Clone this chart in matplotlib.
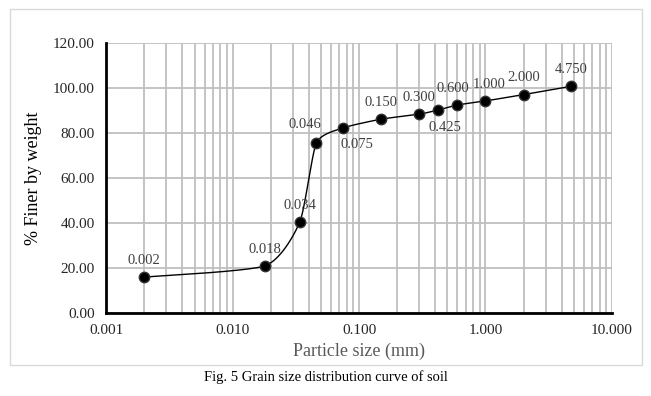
import numpy as np
import matplotlib.pyplot as plt
from matplotlib.patches import Rectangle
from matplotlib.ticker import FixedLocator, LogLocator, NullFormatter

plt.rcParams['font.family'] = ['Liberation Serif', 'DejaVu Serif']

# grain size (mm) and percent finer
size_mm = [0.002, 0.018, 0.034, 0.046, 0.075, 0.150, 0.300, 0.425, 0.600, 1.000, 2.000, 4.750]
finer = [15.9, 20.9, 40.4, 75.6, 82.3, 86.2, 88.4, 90.3, 92.5, 94.3, 97.1, 100.8]
point_labels = ['0.002', '0.018', '0.034', '0.046', '0.075', '0.150', '0.300',
                '0.425', '0.600', '1.000', '2.000', '4.750']
x_ticks = [0.001, 0.01, 0.1, 1, 10]
x_ticklabels = ['0.001', '0.010', '0.100', '1.000', '10.000']
y_ticks = [0, 20, 40, 60, 80, 100, 120]


def smooth(xs, ys, n=40):
    # Catmull-Rom style smoothing in log-x space, like a spreadsheet "smoothed line"
    lx = np.log10(xs)
    ys = np.asarray(ys, float)
    px = np.concatenate([[lx[0]], lx, [lx[-1]]])
    py = np.concatenate([[ys[0]], ys, [ys[-1]]])
    ox, oy = [], []
    for i in range(1, len(px) - 2):
        t = np.linspace(0, 1, n)
        p0, p1, p2, p3 = px[i - 1], px[i], px[i + 1], px[i + 2]
        q0, q1, q2, q3 = py[i - 1], py[i], py[i + 1], py[i + 2]
        h00 = 2 * t**3 - 3 * t**2 + 1
        h10 = t**3 - 2 * t**2 + t
        h01 = -2 * t**3 + 3 * t**2
        h11 = t**3 - t**2
        mx1, mx2 = (p2 - p0) / 2 * 0.6, (p3 - p1) / 2 * 0.6
        my1, my2 = (q2 - q0) / 2 * 0.6, (q3 - q1) / 2 * 0.6
        ox.append(h00 * p1 + h10 * mx1 + h01 * p2 + h11 * mx2)
        oy.append(h00 * q1 + h10 * my1 + h01 * q2 + h11 * my2)
    return 10 ** np.concatenate(ox), np.concatenate(oy)


fig = plt.figure(figsize=(6.51, 3.96), dpi=100)
ax = fig.add_axes([0.163, 0.210, 0.777, 0.681])

sx, sy = smooth(size_mm, finer)
ax.plot(sx, sy, color='black', lw=1.0, zorder=3)
ax.plot(size_mm, finer, 'o', ms=7.5, color='black', mec='#333333', zorder=4)

ax.set_xscale('log')
ax.set_xlim(0.001, 10)
ax.set_ylim(0, 120)
ax.xaxis.set_major_locator(FixedLocator(x_ticks))
ax.set_xticklabels(x_ticklabels)
ax.xaxis.set_minor_locator(LogLocator(base=10, subs=np.arange(2, 10)))
ax.xaxis.set_minor_formatter(NullFormatter())
ax.set_yticks(y_ticks)
ax.set_yticklabels(['%.2f' % v for v in y_ticks])

ax.grid(True, which='major', color='#BFBFBF', lw=1.3)
ax.grid(True, which='minor', axis='x', color='#BFBFBF', lw=1.3)
ax.set_axisbelow(True)
ax.tick_params(which='both', length=0, labelsize=11, colors='#262626', pad=8)
for s in ['top', 'right']:
    ax.spines[s].set_visible(False)
for s in ['left', 'bottom']:
    ax.spines[s].set_linewidth(2)
    ax.spines[s].set_color('black')

ax.set_xlabel('Particle size (mm)', fontsize=13, color='#595959', labelpad=4)
ax.set_ylabel('% Finer by weight', fontsize=13, color='black', labelpad=8)

# point labels: offsets in points
offsets = {'0.075': (10, -12), '0.425': (5, -13), '0.046': (-8, 13),
           '0.600': (-3, 12), '1.000': (3, 12)}
for x, y, lab in zip(size_mm, finer, point_labels):
    dx, dy = offsets.get(lab, (0, 12))
    ax.annotate(lab, (x, y), xytext=(dx, dy), textcoords='offset points',
                ha='center', va='center', fontsize=10.5, color='#404040', zorder=5)

fig.patches.append(Rectangle((10 / 651, 1 - 365 / 396), 632 / 651, 356 / 396,
                             transform=fig.transFigure, fill=False,
                             ec='#D9D9D9', lw=1))
fig.text(0.5, 1 - 377 / 396, 'Fig. 5 Grain size distribution curve of soil',
         ha='center', va='center', fontsize=10.5, color='black')

fig.savefig('out.png', dpi=100)
